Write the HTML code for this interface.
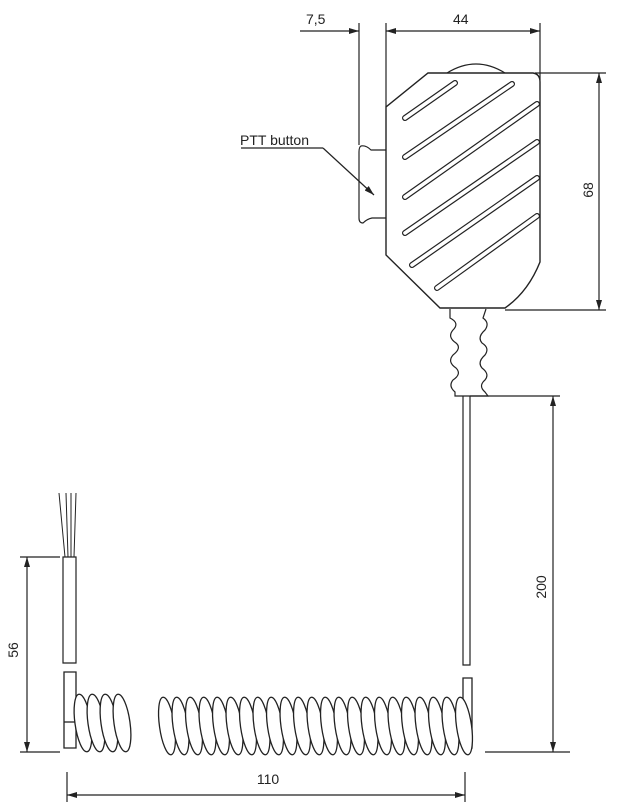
<!DOCTYPE html>
<html><head><meta charset="utf-8"><style>
html,body{margin:0;padding:0;background:#fff;}
svg{display:block;}
text{font-family:"Liberation Sans",sans-serif;fill:#222;}
</style></head><body>
<svg width="617" height="810" viewBox="0 0 617 810" xmlns="http://www.w3.org/2000/svg">
<defs>
<marker id="a" viewBox="0 0 10 6" refX="10" refY="3" markerWidth="10" markerHeight="6" orient="auto-start-reverse" markerUnits="userSpaceOnUse"><path d="M0,0 L10,3 L0,6 z" fill="#222"/></marker>
</defs>
<g stroke="#222" stroke-width="1.2" fill="none">
<line x1="359" y1="23" x2="359" y2="145"/>
<line x1="386" y1="23" x2="386" y2="107"/>
<line x1="540" y1="23" x2="540" y2="80"/>
<line x1="300" y1="31" x2="359" y2="31" marker-end="url(#a)"/>
<line x1="386" y1="31" x2="540" y2="31" marker-start="url(#a)" marker-end="url(#a)"/>
<line x1="535" y1="73" x2="606" y2="73"/>
<line x1="505" y1="310" x2="606" y2="310"/>
<line x1="599" y1="73" x2="599" y2="310" marker-start="url(#a)" marker-end="url(#a)"/>
<path d="M447,73 Q476,55 505,73"/>
<path d="M428,73 L533,73 Q540,74 540,82 L540,262 Q528,292 505,308 L440,308 L386,255 L386,107 Z" stroke-width="1.4" fill="#fff"/>
<path d="M386,150 L371,150 Q366,145 361,146 Q359,147 359,152 L359,218 Q359,223 363,223 Q367,219 372,218 L386,218"/>
<line x1="241" y1="148" x2="323" y2="148"/>
<line x1="323" y1="148" x2="374" y2="195" marker-end="url(#a)"/>
<path d="M450,309 L450,318 Q460,323 453,330 Q447,337 456,343 Q462,348 453,355 Q447,362 456,368 Q462,374 453,380 Q448,386 455,392 L455,396 L488,396 L485,392 Q478,386 485,380 Q490,374 482,368 Q477,362 485,355 Q490,348 482,343 Q477,337 485,330 Q490,323 483,318 L486,309"/>
<path d="M463,396 L463,665 L470,665 L470,396"/>
<line x1="470" y1="396" x2="560" y2="396"/>
<line x1="485" y1="752" x2="570" y2="752"/>
<line x1="553" y1="396" x2="553" y2="752" marker-start="url(#a)" marker-end="url(#a)"/>
<path d="M63,557 L63,663 L76,663 L76,557 Z"/>
<path d="M65,557 L59,493 M68,557 L66,493 M71,557 L71,493 M74,557 L76,493" stroke-width="1"/>
<line x1="20" y1="557" x2="60" y2="557"/>
<line x1="20" y1="752" x2="60" y2="752"/>
<line x1="27" y1="557" x2="27" y2="752" marker-start="url(#a)" marker-end="url(#a)"/>
<line x1="67" y1="772" x2="67" y2="802"/>
<line x1="465" y1="772" x2="465" y2="802"/>
<line x1="67" y1="795" x2="465" y2="795" marker-start="url(#a)" marker-end="url(#a)"/>
</g>
<g stroke-linecap="round" fill="none">
<g stroke="#222" stroke-width="6">
<line x1="405" y1="118" x2="455" y2="83"/><line x1="405" y1="157" x2="512" y2="84"/><line x1="405" y1="197" x2="537" y2="104"/><line x1="405" y1="233" x2="537" y2="142"/><line x1="412" y1="265" x2="537" y2="178"/><line x1="437" y1="288" x2="537" y2="216"/>
</g>
<g stroke="#fff" stroke-width="3.6">
<line x1="405" y1="118" x2="455" y2="83"/><line x1="405" y1="157" x2="512" y2="84"/><line x1="405" y1="197" x2="537" y2="104"/><line x1="405" y1="233" x2="537" y2="142"/><line x1="412" y1="265" x2="537" y2="178"/><line x1="437" y1="288" x2="537" y2="216"/>
</g>
</g>
<g stroke="#222" stroke-width="1.3" fill="#fff">
<path d="M64,672 L76,672 L76,748 L64,748 Z"/>
<line x1="64" y1="722" x2="76" y2="722"/>
<ellipse cx="83" cy="723" rx="8" ry="29" transform="rotate(-8 83 723)"/>
<ellipse cx="96" cy="723" rx="8" ry="29" transform="rotate(-8 96 723)"/>
<ellipse cx="109" cy="723" rx="8" ry="29" transform="rotate(-8 109 723)"/>
<ellipse cx="122" cy="723" rx="8" ry="29" transform="rotate(-8 122 723)"/>
<path d="M463,678 L472,678 L472,748 L463,748 Z"/>
<ellipse cx="167" cy="726" rx="7.5" ry="29" transform="rotate(-8 167 726)"/>
<ellipse cx="180.5" cy="726" rx="7.5" ry="29" transform="rotate(-8 180.5 726)"/>
<ellipse cx="194" cy="726" rx="7.5" ry="29" transform="rotate(-8 194 726)"/>
<ellipse cx="207.5" cy="726" rx="7.5" ry="29" transform="rotate(-8 207.5 726)"/>
<ellipse cx="221" cy="726" rx="7.5" ry="29" transform="rotate(-8 221 726)"/>
<ellipse cx="234.5" cy="726" rx="7.5" ry="29" transform="rotate(-8 234.5 726)"/>
<ellipse cx="248" cy="726" rx="7.5" ry="29" transform="rotate(-8 248 726)"/>
<ellipse cx="261.5" cy="726" rx="7.5" ry="29" transform="rotate(-8 261.5 726)"/>
<ellipse cx="275" cy="726" rx="7.5" ry="29" transform="rotate(-8 275 726)"/>
<ellipse cx="288.5" cy="726" rx="7.5" ry="29" transform="rotate(-8 288.5 726)"/>
<ellipse cx="302" cy="726" rx="7.5" ry="29" transform="rotate(-8 302 726)"/>
<ellipse cx="315.5" cy="726" rx="7.5" ry="29" transform="rotate(-8 315.5 726)"/>
<ellipse cx="329" cy="726" rx="7.5" ry="29" transform="rotate(-8 329 726)"/>
<ellipse cx="342.5" cy="726" rx="7.5" ry="29" transform="rotate(-8 342.5 726)"/>
<ellipse cx="356" cy="726" rx="7.5" ry="29" transform="rotate(-8 356 726)"/>
<ellipse cx="369.5" cy="726" rx="7.5" ry="29" transform="rotate(-8 369.5 726)"/>
<ellipse cx="383" cy="726" rx="7.5" ry="29" transform="rotate(-8 383 726)"/>
<ellipse cx="396.5" cy="726" rx="7.5" ry="29" transform="rotate(-8 396.5 726)"/>
<ellipse cx="410" cy="726" rx="7.5" ry="29" transform="rotate(-8 410 726)"/>
<ellipse cx="423.5" cy="726" rx="7.5" ry="29" transform="rotate(-8 423.5 726)"/>
<ellipse cx="437" cy="726" rx="7.5" ry="29" transform="rotate(-8 437 726)"/>
<ellipse cx="450.5" cy="726" rx="7.5" ry="29" transform="rotate(-8 450.5 726)"/>
<ellipse cx="464" cy="726" rx="7.5" ry="29" transform="rotate(-8 464 726)"/>
</g>
<text x="306" y="24" font-size="14">7,5</text>
<text x="453" y="24" font-size="14">44</text>
<text x="240" y="145" font-size="14">PTT button</text>
<text x="0" y="0" font-size="14" transform="translate(593,190) rotate(-90)" text-anchor="middle">68</text>
<text x="0" y="0" font-size="14" transform="translate(546,587) rotate(-90)" text-anchor="middle">200</text>
<text x="0" y="0" font-size="14" transform="translate(18,650) rotate(-90)" text-anchor="middle">56</text>
<text x="268" y="784" font-size="14" text-anchor="middle">110</text>
</svg>
</body></html>
